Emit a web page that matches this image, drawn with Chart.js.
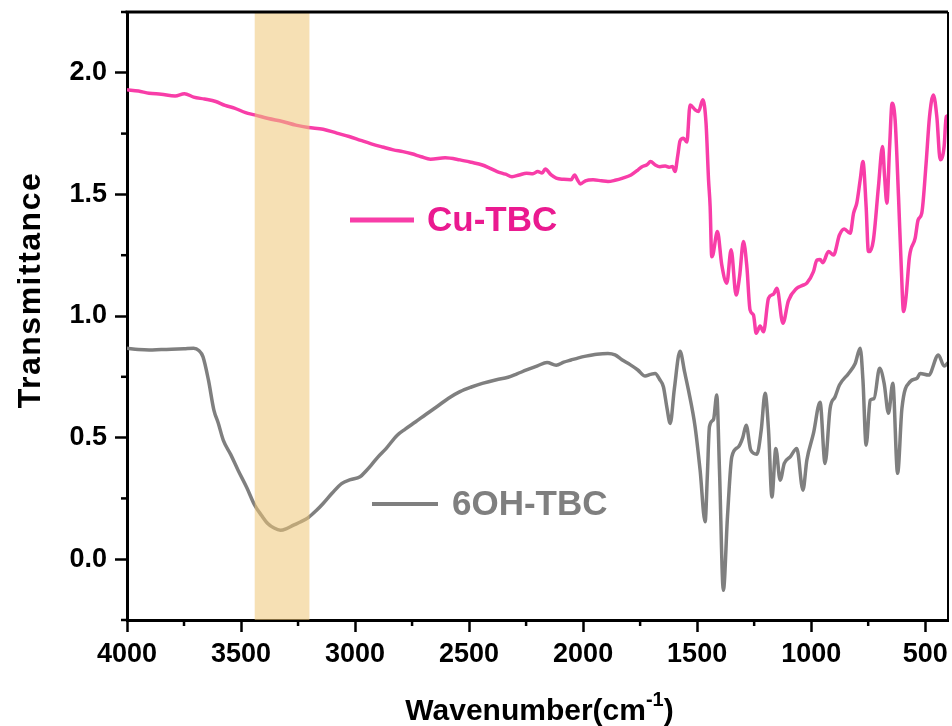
<!DOCTYPE html>
<html>
<head>
<meta charset="utf-8">
<script src="https://cdn.jsdelivr.net/npm/chart.js@4.4.0/dist/chart.umd.min.js"></script>
<style>
  html, body { margin: 0; padding: 0; background: #ffffff; }
  #wrap { width: 952px; height: 726px; }
</style>
</head>
<body>
<div id="wrap"><canvas id="ftir" width="952" height="726"></canvas></div>
<script>
// FTIR spectra: wavenumber (cm-1) and transmittance for each sample
const cuTbcWavenumber = [4000,3950,3903,3850,3789,3748,3708,3660,3611,3570,3529,3480,3440,3380,3318,3260,3205,3140,3080,3026,2975,2929,2880,2832,2790,2751,2710,2669,2605,2540,2490,2442,2410,2377,2340,2312,2280,2248,2220,2199,2180,2166,2140,2118,2085,2053,2037,2025,2012,1990,1956,1920,1891,1860,1826,1790,1760,1745,1720,1704,1685,1663,1640,1623,1608,1597,1585,1575,1560,1545,1531,1509,1494,1475,1461,1450,1443,1436,1431,1411,1392,1370,1351,1329,1314,1297,1282,1268,1253,1241,1224,1209,1187,1165,1150,1124,1100,1063,1040,1019,990,975,961,949,924,902,876,855,829,814,800,785,773,759,749,744,727,705,687,678,668,656,645,632,617,605,595,584,569,544,531,515,496,481,464,449,434,417,408,400];
const cuTbcTransmittance = [1.930,1.925,1.916,1.912,1.905,1.914,1.900,1.892,1.882,1.866,1.855,1.836,1.827,1.812,1.800,1.785,1.775,1.768,1.752,1.738,1.722,1.708,1.695,1.683,1.676,1.667,1.655,1.645,1.651,1.642,1.632,1.621,1.608,1.594,1.583,1.573,1.580,1.587,1.585,1.594,1.588,1.604,1.580,1.567,1.562,1.560,1.580,1.560,1.543,1.556,1.560,1.556,1.553,1.558,1.567,1.580,1.600,1.612,1.622,1.635,1.622,1.614,1.617,1.612,1.615,1.594,1.660,1.720,1.731,1.715,1.868,1.848,1.841,1.889,1.793,1.560,1.450,1.244,1.251,1.347,1.210,1.135,1.272,1.086,1.162,1.306,1.203,1.025,1.004,0.929,0.959,0.935,1.073,1.090,1.114,0.970,1.062,1.114,1.125,1.135,1.182,1.230,1.232,1.219,1.265,1.251,1.333,1.358,1.340,1.423,1.464,1.560,1.635,1.450,1.265,1.265,1.313,1.532,1.697,1.573,1.464,1.697,1.875,1.807,1.491,1.203,1.018,1.079,1.244,1.320,1.395,1.423,1.628,1.820,1.909,1.820,1.642,1.697,1.820,1.823];

const ohTbcWavenumber = [4000,3950,3903,3850,3805,3750,3708,3685,3667,3643,3619,3600,3578,3545,3513,3475,3440,3410,3383,3355,3327,3300,3270,3240,3205,3170,3140,3100,3059,3020,2978,2950,2929,2900,2864,2815,2780,2734,2690,2637,2590,2540,2490,2442,2380,2329,2290,2248,2200,2158,2118,2085,2053,2020,1988,1940,1891,1860,1830,1794,1760,1728,1705,1684,1665,1648,1632,1618,1600,1575,1555,1538,1509,1487,1465,1455,1446,1428,1414,1402,1385,1367,1348,1319,1300,1285,1265,1238,1219,1202,1187,1172,1155,1136,1118,1092,1063,1036,1019,990,961,939,917,895,876,836,807,785,773,759,741,724,700,680,661,642,621,602,566,536,522,485,442,417,400];
const ohTbcTransmittance = [0.867,0.862,0.860,0.862,0.863,0.865,0.867,0.858,0.833,0.737,0.613,0.560,0.490,0.430,0.366,0.295,0.222,0.180,0.147,0.128,0.119,0.126,0.140,0.153,0.171,0.200,0.229,0.272,0.311,0.327,0.339,0.365,0.387,0.420,0.455,0.510,0.535,0.565,0.595,0.630,0.662,0.689,0.708,0.723,0.738,0.748,0.762,0.778,0.795,0.809,0.798,0.810,0.819,0.828,0.835,0.843,0.846,0.840,0.820,0.800,0.778,0.753,0.760,0.764,0.740,0.709,0.620,0.558,0.700,0.855,0.770,0.695,0.545,0.366,0.154,0.350,0.545,0.575,0.675,0.366,-0.128,0.174,0.421,0.462,0.500,0.551,0.449,0.432,0.531,0.682,0.531,0.256,0.455,0.325,0.394,0.421,0.455,0.284,0.407,0.517,0.645,0.394,0.620,0.668,0.716,0.764,0.805,0.867,0.737,0.469,0.654,0.661,0.785,0.723,0.600,0.723,0.353,0.620,0.730,0.744,0.764,0.757,0.840,0.794,0.808];

const xTickValues = [4000, 3500, 3000, 2500, 2000, 1500, 1000, 500];
const xMinorTickValues = [3750, 3250, 2750, 2250, 1750, 1250, 750];
const yTickValues = [0.0, 0.5, 1.0, 1.5, 2.0];
const yMinorTickValues = [-0.25, 0.25, 0.75, 1.25, 1.75, 2.25];
const highlightBand = [3440, 3200];   // O-H stretching region
const seriesNames = ['Cu-TBC', '6OH-TBC'];

const PINK = '#F83DA8';
const PINK_TEXT = '#EA1A90';
const GRAY = '#7F7F7F';
const FONT = "'Liberation Sans', Arial, Helvetica, sans-serif";

const toPoints = (xs, ys) => xs.map((x, i) => ({ x: x, y: ys[i] }));

// frame: top/right border and minor tick marks
const framePlugin = {
  id: 'frame',
  afterDraw(chart) {
    const { ctx, chartArea: a, scales } = chart;
    ctx.save();
    ctx.strokeStyle = '#000';
    ctx.lineWidth = 3;
    ctx.beginPath();
    ctx.moveTo(a.left - 1.5, a.top);
    ctx.lineTo(a.right, a.top);
    ctx.stroke();
    ctx.lineWidth = 2;
    ctx.beginPath();
    ctx.moveTo(a.right, a.top);
    ctx.lineTo(a.right, a.bottom);
    ctx.stroke();
    ctx.lineWidth = 2.5;
    xMinorTickValues.forEach(v => {
      const px = scales.x.getPixelForValue(v);
      ctx.beginPath();
      ctx.moveTo(px, a.bottom);
      ctx.lineTo(px, a.bottom + 6);
      ctx.stroke();
    });
    yMinorTickValues.forEach(v => {
      const py = scales.y.getPixelForValue(v);
      ctx.beginPath();
      ctx.moveTo(a.left, py);
      ctx.lineTo(a.left - 6, py);
      ctx.stroke();
    });
    ctx.restore();
  }
};

// translucent band over the spectra
const bandPlugin = {
  id: 'band',
  afterDatasetsDraw(chart) {
    const { ctx, chartArea: a, scales } = chart;
    const x1 = scales.x.getPixelForValue(highlightBand[0]);
    const x2 = scales.x.getPixelForValue(highlightBand[1]);
    ctx.save();
    ctx.fillStyle = 'rgba(238, 198, 118, 0.55)';
    ctx.fillRect(Math.min(x1, x2), a.top, Math.abs(x2 - x1), a.bottom - a.top);
    ctx.restore();
  }
};

// in-plot series labels
const labelPlugin = {
  id: 'seriesLabels',
  afterDraw(chart) {
    const { ctx } = chart;
    const entries = [
      { name: seriesNames[0], line: PINK, text: PINK_TEXT, x0: 350, x1: 414, y: 220, w: 5, tx: 427 },
      { name: seriesNames[1], line: GRAY, text: GRAY, x0: 372, x1: 438, y: 504, w: 4, tx: 452 }
    ];
    ctx.save();
    entries.forEach(e => {
      ctx.strokeStyle = e.line;
      ctx.lineWidth = e.w;
      ctx.beginPath();
      ctx.moveTo(e.x0, e.y);
      ctx.lineTo(e.x1, e.y);
      ctx.stroke();
      ctx.fillStyle = e.text;
      ctx.font = 'bold 35px ' + FONT;
      ctx.textAlign = 'left';
      ctx.textBaseline = 'middle';
      ctx.fillText(e.name, e.tx, e.y + 1);
    });
    ctx.restore();
  }
};

// axis titles (x title carries a superscript)
const titlePlugin = {
  id: 'axisTitles',
  afterDraw(chart) {
    const { ctx, chartArea: a } = chart;
    ctx.save();
    ctx.fillStyle = '#000';
    ctx.textBaseline = 'alphabetic';
    // x title
    const main = 'Wavenumber(cm';
    const sup = '-1';
    const close = ')';
    ctx.font = 'bold 30px ' + FONT;
    const wMain = ctx.measureText(main).width;
    const wClose = ctx.measureText(close).width;
    ctx.font = 'bold 20px ' + FONT;
    const wSup = ctx.measureText(sup).width;
    const total = wMain + wSup + wClose;
    let x = (a.left + a.right) / 2 - total / 2 + 2;
    const base = 720;
    ctx.textAlign = 'left';
    ctx.font = 'bold 30px ' + FONT;
    ctx.fillText(main, x, base);
    x += wMain;
    ctx.font = 'bold 20px ' + FONT;
    ctx.fillText(sup, x, base - 14);
    x += wSup;
    ctx.font = 'bold 30px ' + FONT;
    ctx.fillText(close, x, base);
    // y title
    ctx.translate(40, 290);
    ctx.rotate(-Math.PI / 2);
    ctx.textAlign = 'center';
    ctx.font = 'bold 32px ' + FONT;
    if ('letterSpacing' in ctx) ctx.letterSpacing = '1.5px';
    ctx.fillText('Transmittance', 0, 0);
    ctx.restore();
  }
};

new Chart(document.getElementById('ftir'), {
  type: 'line',
  data: {
    datasets: [
      {
        label: seriesNames[1],
        data: toPoints(ohTbcWavenumber, ohTbcTransmittance),
        borderColor: GRAY,
        borderWidth: 3.5,
        pointRadius: 0,
        cubicInterpolationMode: 'monotone',
        fill: false
      },
      {
        label: seriesNames[0],
        data: toPoints(cuTbcWavenumber, cuTbcTransmittance),
        borderColor: PINK,
        borderWidth: 3.5,
        pointRadius: 0,
        cubicInterpolationMode: 'monotone',
        fill: false
      }
    ]
  },
  options: {
    responsive: false,
    devicePixelRatio: 1,
    animation: false,
    layout: { padding: { top: 12, right: 4, left: 0, bottom: 0 } },
    plugins: { legend: { display: false }, tooltip: { enabled: false } },
    scales: {
      x: {
        type: 'linear',
        reverse: true,
        min: 400,
        max: 4000,
        afterBuildTicks: s => { s.ticks = xTickValues.map(v => ({ value: v })); },
        afterFit: s => { s.height = 106; s.paddingLeft = 0; s.paddingRight = 0; },
        ticks: {
          autoSkip: false,
          maxRotation: 0,
          padding: 6,
          color: '#000',
          font: { family: FONT, size: 27, weight: 'bold' },
          callback: v => String(v)
        },
        grid: { drawOnChartArea: false, drawTicks: true, tickLength: 12, tickWidth: 2.5, tickColor: '#000' },
        border: { display: true, width: 3, color: '#000' }
      },
      y: {
        type: 'linear',
        min: -0.25,
        max: 2.25,
        afterBuildTicks: s => { s.ticks = yTickValues.map(v => ({ value: v })); },
        afterFit: s => { s.width = 127; s.paddingTop = 0; s.paddingBottom = 0; },
        ticks: {
          autoSkip: false,
          padding: 8,
          color: '#000',
          font: { family: FONT, size: 27, weight: 'bold' },
          callback: v => Number(v).toFixed(1)
        },
        grid: { drawOnChartArea: false, drawTicks: true, tickLength: 12, tickWidth: 2.5, tickColor: '#000' },
        border: { display: true, width: 3, color: '#000' }
      }
    }
  },
  plugins: [bandPlugin, framePlugin, labelPlugin, titlePlugin]
});
</script>
</body>
</html>
